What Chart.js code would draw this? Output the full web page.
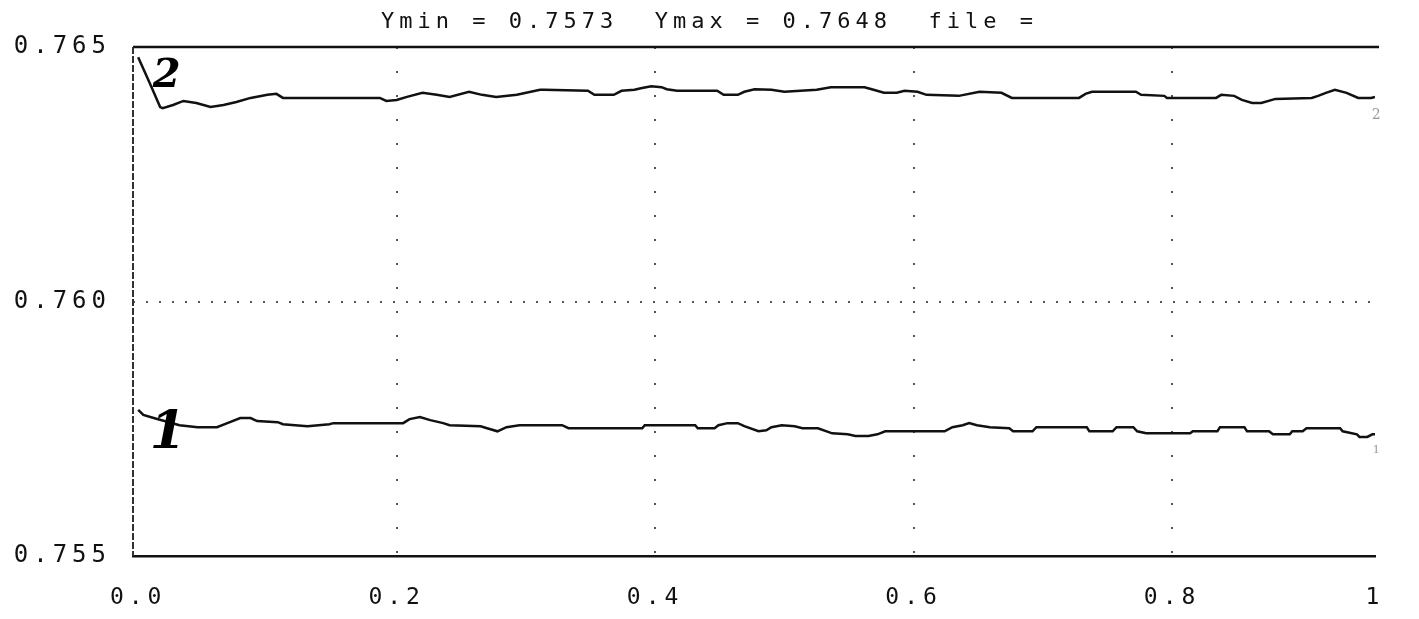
<!DOCTYPE html>
<html>
<head>
<meta charset="utf-8">
<script src="https://cdn.jsdelivr.net/npm/chart.js@4.4.1/dist/chart.umd.min.js"></script>
<style>
  html, body { margin: 0; background: #fff; }
  #wrap { width: 1419px; height: 619px; }
</style>
</head>
<body>
<div id="wrap"><canvas id="myChart"></canvas></div>
<script>
// trace 2 (upper)
const upperX = [0, 0.009, 0.017, 0.019, 0.027, 0.035, 0.045, 0.056, 0.066, 0.076, 0.087, 0.100, 0.107, 0.112,
  0.148, 0.187, 0.192, 0.200, 0.208, 0.220, 0.231, 0.241, 0.256, 0.266, 0.277, 0.293, 0.311, 0.314,
  0.348, 0.353, 0.368, 0.374, 0.384, 0.389, 0.397, 0.405, 0.409, 0.417, 0.448, 0.453, 0.464, 0.469,
  0.477, 0.490, 0.500, 0.525, 0.536, 0.562, 0.569, 0.577, 0.587, 0.593, 0.603, 0.610, 0.635, 0.651,
  0.668, 0.676, 0.728, 0.733, 0.738, 0.772, 0.776, 0.794, 0.796, 0.834, 0.838, 0.848, 0.854, 0.862,
  0.869, 0.880, 0.908, 0.913, 0.919, 0.926, 0.935, 0.944, 0.954, 0.957];
const upperY = [0.7648, 0.76429, 0.76382, 0.76380, 0.76386, 0.76394, 0.76390, 0.76382, 0.76386, 0.76392, 0.76400, 0.76406, 0.76408, 0.76400,
  0.76400, 0.76400, 0.76394, 0.76396, 0.76402, 0.76410, 0.76406, 0.76402, 0.76412, 0.76406, 0.76402, 0.76406, 0.76416, 0.76416,
  0.76414, 0.76406, 0.76406, 0.76414, 0.76416, 0.76419, 0.76423, 0.76421, 0.76417, 0.76414, 0.76414, 0.76406, 0.76406, 0.76412,
  0.76417, 0.76416, 0.76412, 0.76416, 0.76421, 0.76421, 0.76416, 0.76410, 0.76410, 0.76414, 0.76412, 0.76406, 0.76404, 0.76412,
  0.76410, 0.76400, 0.76400, 0.76408, 0.76412, 0.76412, 0.76406, 0.76404, 0.76400, 0.76400, 0.76406, 0.76404, 0.76396, 0.76390,
  0.76390, 0.76398, 0.76400, 0.76404, 0.76410, 0.76416, 0.76410, 0.76400, 0.76400, 0.76402];

// trace 1 (lower)
const lowerX = [0, 0.004, 0.012, 0.032, 0.046, 0.061, 0.069, 0.079, 0.087, 0.092, 0.108, 0.112, 0.131, 0.148,
  0.151, 0.205, 0.210, 0.218, 0.226, 0.236, 0.241, 0.265, 0.270, 0.278, 0.285, 0.295, 0.315, 0.328,
  0.333, 0.390, 0.392, 0.431, 0.433, 0.446, 0.449, 0.456, 0.464, 0.469, 0.480, 0.486, 0.490, 0.498,
  0.508, 0.514, 0.526, 0.537, 0.549, 0.555, 0.565, 0.572, 0.578, 0.624, 0.630, 0.638, 0.643, 0.649,
  0.659, 0.674, 0.677, 0.692, 0.695, 0.734, 0.736, 0.754, 0.757, 0.770, 0.773, 0.780, 0.814, 0.816,
  0.835, 0.837, 0.856, 0.858, 0.875, 0.878, 0.891, 0.893, 0.901, 0.904, 0.930, 0.932, 0.943, 0.945,
  0.951, 0.955, 0.957];
const lowerY = [0.75787, 0.75777, 0.75771, 0.75757, 0.75753, 0.75753, 0.75761, 0.75771, 0.75771, 0.75765, 0.75763, 0.75759, 0.75755, 0.75759,
  0.75761, 0.75761, 0.75769, 0.75773, 0.75767, 0.75761, 0.75757, 0.75755, 0.75751, 0.75745, 0.75753, 0.75757, 0.75757, 0.75757,
  0.75751, 0.75751, 0.75757, 0.75757, 0.75751, 0.75751, 0.75757, 0.75761, 0.75761, 0.75755, 0.75745, 0.75747, 0.75753, 0.75757,
  0.75755, 0.75751, 0.75751, 0.75741, 0.75739, 0.75736, 0.75736, 0.75739, 0.75745, 0.75745, 0.75753, 0.75757, 0.75761, 0.75757,
  0.75753, 0.75751, 0.75745, 0.75745, 0.75753, 0.75753, 0.75745, 0.75745, 0.75753, 0.75753, 0.75745, 0.75741, 0.75741, 0.75745,
  0.75745, 0.75753, 0.75753, 0.75745, 0.75745, 0.75739, 0.75739, 0.75745, 0.75745, 0.75751, 0.75751, 0.75745, 0.75739, 0.75734,
  0.75734, 0.75739, 0.75739];

const xTicks = [0, 0.2, 0.4, 0.6, 0.8, 0.957];
const xTickLabels = ['0.0', '0.2', '0.4', '0.6', '0.8', '1'];
const yTicks = [0.755, 0.760, 0.765];
const titleText = 'Ymin = 0.7573  Ymax = 0.7648  file =';

// hand written trace numbers and the small plotter labels at the line ends
const marks = [
  { text: '2', x: 0.022, y: 0.76441, size: 40, color: '#000', bold: true },
  { text: '1', x: 0.023, y: 0.75738, size: 52, color: '#000', bold: true },
  { text: '2', x: 0.958, y: 0.76366, size: 14, color: '#999', bold: false },
  { text: '1', x: 0.958, y: 0.75708, size: 11, color: '#999', bold: false }
];

const mono = 'DejaVu Sans Mono';
const ink = '#111';

const framePlugin = {
  id: 'frame',
  beforeLayout(chart) { chart.ctx.letterSpacing = '5px'; },
  beforeDraw(chart) { chart.ctx.letterSpacing = '5px'; },
  afterDatasetsDraw(chart) {
    const { ctx, chartArea: a, scales } = chart;
    ctx.save();
    ctx.letterSpacing = '0px';
    // top edge
    ctx.strokeStyle = ink;
    ctx.lineWidth = 2.5;
    ctx.beginPath();
    ctx.moveTo(a.left, a.top);
    ctx.lineTo(a.right + 4, a.top);
    ctx.stroke();
    // left edge, broken
    ctx.lineWidth = 2;
    ctx.strokeStyle = '#333';
    ctx.setLineDash([7, 2]);
    ctx.beginPath();
    ctx.moveTo(a.left, a.top);
    ctx.lineTo(a.left, a.bottom);
    ctx.stroke();
    ctx.setLineDash([]);
    // marks
    ctx.textAlign = 'center';
    ctx.textBaseline = 'middle';
    marks.forEach(m => {
      ctx.fillStyle = m.color;
      ctx.font = (m.bold ? 'italic bold ' : '') + m.size + 'px "DejaVu Serif"';
      ctx.fillText(m.text, scales.x.getPixelForValue(m.x), scales.y.getPixelForValue(m.y));
    });
    ctx.restore();
  }
};

const ctx = document.getElementById('myChart').getContext('2d');
const myChart = new Chart(ctx, {
  type: 'line',
  data: {
    datasets: [{
      label: '2',
      data: upperX.map((x, i) => ({ x: x, y: upperY[i] })),
      borderColor: ink,
      borderWidth: 2.5,
      pointRadius: 0,
      tension: 0
    }, {
      label: '1',
      data: lowerX.map((x, i) => ({ x: x, y: lowerY[i] })),
      borderColor: ink,
      borderWidth: 2.5,
      pointRadius: 0,
      tension: 0
    }]
  },
  options: {
    responsive: true,
    maintainAspectRatio: false,
    animation: false,
    layout: { padding: 0 },
    plugins: {
      legend: { display: false },
      tooltip: { enabled: false },
      title: {
        display: true,
        text: titleText,
        color: ink,
        font: { family: mono, size: 22, weight: 'normal' },
        padding: { top: 9, bottom: 11.6 }
      }
    },
    scales: {
      x: {
        type: 'linear',
        min: -0.004,
        max: 0.957,
        afterBuildTicks: s => { s.ticks = xTicks.map(v => ({ value: v })); },
        afterFit: s => { s.height = 63; },
        ticks: {
          callback: (v, i) => xTickLabels[i],
          color: ink,
          font: { family: mono, size: 23 },
          padding: 28,
          maxRotation: 0,
          autoSkip: false
        },
        grid: {
          drawTicks: false,
          lineWidth: 2,
          color: c => (c.index === 0 || c.index === xTicks.length - 1) ? 'rgba(0,0,0,0)' : '#555'
        },
        border: { display: true, color: ink, width: 2.5, dash: [2, 22] }
      },
      y: {
        min: 0.755,
        max: 0.765,
        afterBuildTicks: s => { s.ticks = yTicks.map(v => ({ value: v })); },
        afterFit: s => { s.width = 133; },
        ticks: {
          callback: v => v.toFixed(3),
          color: ink,
          font: { family: mono, size: 24 },
          padding: 22
        },
        grid: {
          drawTicks: false,
          lineWidth: 2,
          color: c => (c.tick && c.tick.value === 0.760) ? '#555' : 'rgba(0,0,0,0)'
        },
        border: { display: false, dash: [2, 11] }
      },
      // empty right margin box so the title stays centred on the whole page
      yRight: {
        position: 'right',
        afterFit: s => { s.width = 44; },
        ticks: { display: false },
        grid: { display: false, drawOnChartArea: false },
        border: { display: false }
      }
    }
  },
  plugins: [framePlugin]
});
</script>
</body>
</html>
